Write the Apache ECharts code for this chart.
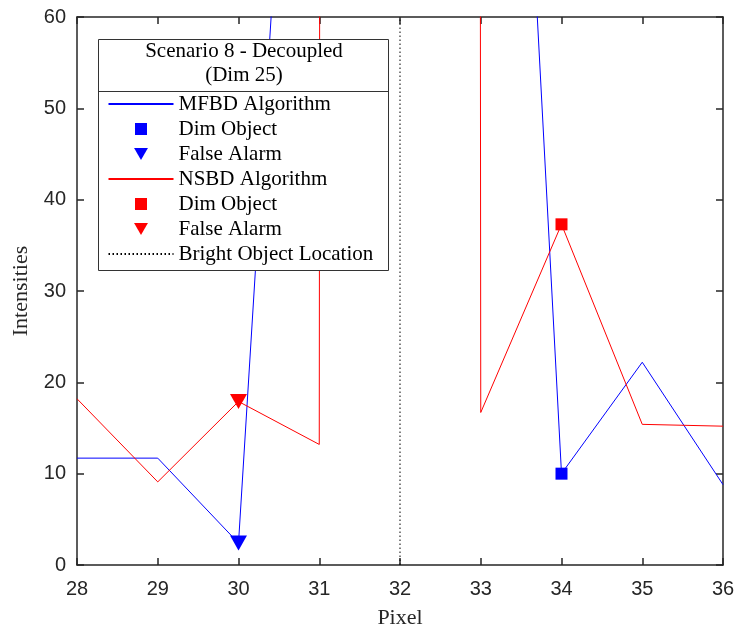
<!DOCTYPE html>
<html>
<head>
<meta charset="utf-8">
<script src="https://cdn.jsdelivr.net/npm/echarts@6/dist/echarts.min.js"></script>
<style>html,body{margin:0;padding:0;background:#fff;}#c{width:738px;height:632px;}</style>
</head>
<body>
<div id="c"></div>
<script>
// ---- data ----
const pixels = [28, 29, 30, 31, 32, 33, 34, 35, 36];
const mfbdValues = [11.7, 11.7, 2.4, 145, 10000, 176.7, 10.0, 22.2, 8.8];
const nsbdValues = [18.2, 9.1, 17.9, 13.2, 10000, 16.7, 37.3, 15.4, 15.2];
const mfbdDim = [[34, 10.0]];
const mfbdFalse = [[30, 2.4]];
const nsbdDim = [[34, 37.3]];
const nsbdFalse = [[30, 17.9]];
const brightX = 32;
const yRange = [0, 60];
const xRange = [28, 36];
const legendTitle = ['Scenario 8 - Decoupled', '(Dim 25)'];
const legendNames = ['MFBD Algorithm', 'Dim Object', 'False Alarm', 'NSBD Algorithm', 'Dim Object ', 'False Alarm ', 'Bright Object Location'];

const triDown = 'path://M0,0 L10,0 L5,8.66 Z';
const square = 'path://M0,0 L10,0 L10,10 L0,10 Z';
const serif = '"Liberation Serif", "Times New Roman", serif';
const sans = '"Liberation Sans", Arial, sans-serif';
const axisColor = '#262626';

const chart = echarts.init(document.getElementById('c'), null, {renderer: 'canvas'});

const axisCommon = {
  axisLine: {show: true, onZero: false, lineStyle: {color: axisColor, width: 1.5}},
  axisTick: {show: true, inside: true, length: 7, lineStyle: {color: axisColor, width: 1.5}},
  splitLine: {show: false}
};

const lineItems = [0, 3, 6];
const option = {
  animation: false,
  backgroundColor: '#fff',
  grid: {left: 77, right: 15, top: 17, bottom: 67, containLabel: false, outerBoundsMode: 'none'},
  xAxis: [
    Object.assign({
      type: 'value', min: xRange[0], max: xRange[1], interval: 1, position: 'bottom',
      name: 'Pixel', nameLocation: 'middle', nameGap: 42,
      nameTextStyle: {fontFamily: serif, fontSize: 22, color: axisColor},
      axisLabel: {margin: 14, fontFamily: sans, fontSize: 20, color: axisColor}
    }, axisCommon),
    Object.assign({
      type: 'value', min: xRange[0], max: xRange[1], interval: 1, position: 'top',
      axisLabel: {show: false}
    }, axisCommon)
  ],
  yAxis: [
    Object.assign({
      type: 'value', min: yRange[0], max: yRange[1], interval: 10, position: 'left',
      name: 'Intensities', nameLocation: 'middle', nameGap: 45, nameRotate: 90,
      nameTextStyle: {fontFamily: serif, fontSize: 22, color: axisColor},
      axisLabel: {margin: 11, fontFamily: sans, fontSize: 20, color: axisColor}
    }, axisCommon),
    Object.assign({
      type: 'value', min: yRange[0], max: yRange[1], interval: 10, position: 'right',
      axisLabel: {show: false}
    }, axisCommon)
  ],
  legend: {
    show: true,
    orient: 'vertical',
    left: 107.5,
    top: 93.5,
    padding: 0,
    itemWidth: 65,
    itemHeight: 12,
    itemGap: 4,
    selectedMode: false,
    symbolKeepAspect: true,
    data: legendNames.map((n, i) => lineItems.indexOf(i) >= 0 ? {name: n, itemStyle: {opacity: 0}} : {name: n}),
    formatter: function (n) { return n.trim(); },
    textStyle: {fontFamily: serif, fontSize: 21, lineHeight: 21, color: '#000'},
    z: 10
  },
  graphic: [
    {type: 'rect', z: 5, shape: {x: 98.5, y: 39.5, width: 290, height: 231},
     style: {fill: '#fff', stroke: '#333', lineWidth: 1}},
    {type: 'line', z: 6, shape: {x1: 98.5, y1: 91.5, x2: 388.5, y2: 91.5},
     style: {stroke: '#333', lineWidth: 1}},
    {type: 'text', z: 6, x: 244, y: 51, style: {text: legendTitle[0], font: '21px ' + serif, fill: '#000', textAlign: 'center', textVerticalAlign: 'middle'}},
    {type: 'text', z: 6, x: 244, y: 75, style: {text: legendTitle[1], font: '21px ' + serif, fill: '#000', textAlign: 'center', textVerticalAlign: 'middle'}}
  ],
  series: [
    {name: legendNames[0], type: 'line', data: pixels.map((p, i) => [p, mfbdValues[i]]),
     showSymbol: false, lineStyle: {color: '#0000ff', width: 1}, itemStyle: {color: '#0000ff'}, clip: true, z: 2},
    {name: legendNames[1], type: 'scatter', data: mfbdDim, symbol: square, symbolSize: 12,
     itemStyle: {color: '#0000ff', opacity: 1}, z: 3},
    {name: legendNames[2], type: 'scatter', data: mfbdFalse, symbol: triDown, symbolSize: [17, 15],
     itemStyle: {color: '#0000ff', opacity: 1}, z: 3},
    {name: legendNames[3], type: 'line', data: pixels.map((p, i) => [p, nsbdValues[i]]),
     showSymbol: false, lineStyle: {color: '#ff0000', width: 1}, itemStyle: {color: '#ff0000'}, clip: true, z: 2},
    {name: legendNames[4], type: 'scatter', data: nsbdDim, symbol: square, symbolSize: 12,
     itemStyle: {color: '#ff0000', opacity: 1}, z: 3},
    {name: legendNames[5], type: 'scatter', data: nsbdFalse, symbol: triDown, symbolSize: [17, 15],
     itemStyle: {color: '#ff0000', opacity: 1}, z: 3},
    {name: legendNames[6], type: 'line', data: [[brightX, yRange[0]], [brightX, yRange[1]]],
     showSymbol: false, lineStyle: {color: '#000', width: 1, type: [1.5, 2.5]}, itemStyle: {color: '#000'}, z: 2}
  ]
};
chart.setOption(option);
</script>
</body>
</html>
